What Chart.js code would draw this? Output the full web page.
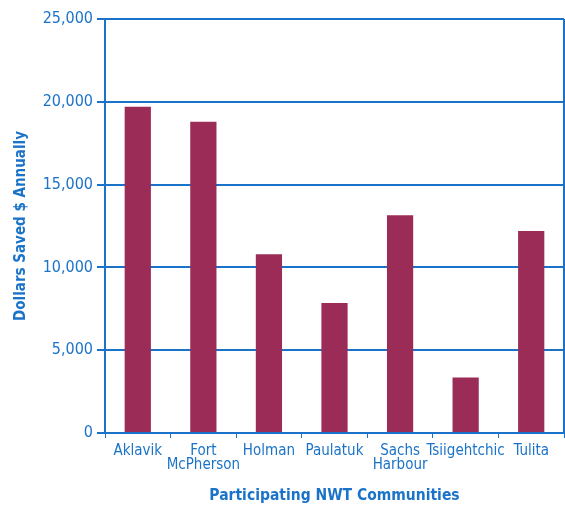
<!DOCTYPE html>
<html>
<head>
<meta charset="utf-8">
<script src="https://cdn.jsdelivr.net/npm/chart.js@4"></script>
<style>
  html, body { margin: 0; padding: 0; background: #fff; }
  #wrap { width: 565px; height: 508px; }
</style>
</head>
<body>
<div id="wrap"><canvas id="savingsChart" width="565" height="508"></canvas></div>
<script>
// communities and annual savings
const communities = ['Aklavik', ['Fort', 'McPherson'], 'Holman', 'Paulatuk', ['Sachs', 'Harbour'], 'Tsiigehtchic', 'Tulita'];
const savings = [19700, 18800, 10800, 7850, 13150, 3350, 12200];
const yTicks = [0, 5000, 10000, 15000, 20000, 25000];

const blue = '#1a73c8';
const maroon = '#9b2c57';
const fontFamily = '"DejaVu Sans Condensed", "DejaVu Sans", sans-serif';

// right edge of the plot frame
const frameRight = {
    id: 'frameRight',
    afterDraw(chart) {
        const a = chart.chartArea;
        const c = chart.ctx;
        c.save();
        c.strokeStyle = blue;
        c.lineWidth = 2;
        c.beginPath();
        c.moveTo(a.right, a.top);
        c.lineTo(a.right, a.bottom);
        c.stroke();
        c.restore();
    }
};

document.addEventListener('DOMContentLoaded', function () {
    const ctx = document.getElementById('savingsChart').getContext('2d');
    new Chart(ctx, {
        type: 'bar',
        data: {
            labels: communities,
            datasets: [{
                label: 'Dollars Saved',
                data: savings,
                backgroundColor: maroon,
                borderWidth: 0,
                barPercentage: 0.8,
                categoryPercentage: 0.5
            }]
        },
        plugins: [frameRight],
        options: {
            responsive: false,
            animation: false,
            layout: { padding: { top: 19, right: 1, left: 0, bottom: 0 } },
            plugins: {
                legend: { display: false },
                tooltip: { enabled: false }
            },
            scales: {
                x: {
                    offset: true,
                    grid: {
                        offset: true,
                        drawOnChartArea: false,
                        drawTicks: true,
                        tickLength: 5,
                        color: blue,
                        lineWidth: 1
                    },
                    border: { color: blue, width: 2 },
                    ticks: {
                        color: blue,
                        font: { family: fontFamily, size: 15, lineHeight: 0.95 },
                        padding: 6,
                        maxRotation: 0,
                        autoSkip: false
                    },
                    title: {
                        display: true,
                        text: 'Participating NWT Communities',
                        color: blue,
                        font: { family: fontFamily, size: 15.5, weight: 'bold' },
                        padding: { top: 18, bottom: 3 }
                    },
                    afterFit(scale) { scale.height = 75; }
                },
                y: {
                    min: 0,
                    max: 25000,
                    afterBuildTicks(scale) {
                        scale.ticks = yTicks.map(v => ({ value: v }));
                    },
                    grid: {
                        color: blue,
                        lineWidth: 2,
                        tickLength: 8
                    },
                    border: { color: blue, width: 2 },
                    ticks: {
                        color: blue,
                        font: { family: fontFamily, size: 16 },
                        padding: 4,
                        callback: v => v.toLocaleString('en-US')
                    },
                    title: {
                        display: true,
                        text: 'Dollars Saved $ Annually',
                        color: blue,
                        font: { family: fontFamily, size: 15, weight: 'bold' },
                        padding: { top: 12, bottom: 2 }
                    },
                    afterFit(scale) { scale.width = 105; }
                }
            }
        }
    });
});
</script>
</body>
</html>
